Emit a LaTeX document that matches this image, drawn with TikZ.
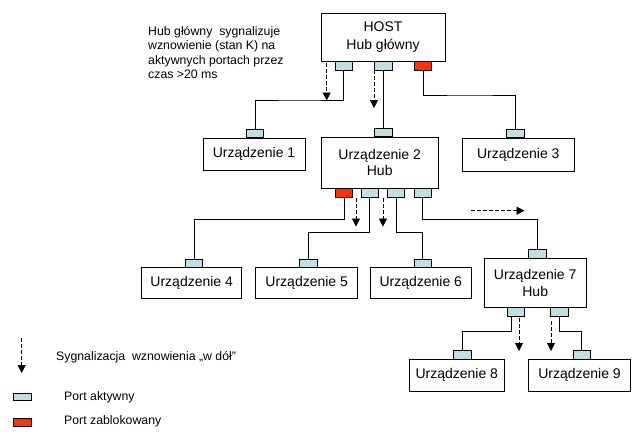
\documentclass[tikz,border=0pt]{standalone}
\usepackage{fontspec}
\setmainfont{Liberation Sans}
\usetikzlibrary{arrows.meta}
\definecolor{portblue}{HTML}{C0DFE0}
\definecolor{portred}{HTML}{FF3300}
\begin{document}
\begin{tikzpicture}[x=1pt,y=-1pt,
  box/.style={draw, line width=0.8pt, inner sep=0pt, align=center, font=\fontsize{14}{16.5}\selectfont},
  port/.style={draw, line width=0.7pt, fill=portblue, minimum width=17.5pt, minimum height=8.5pt, inner sep=0pt},
  blocked/.style={port, fill=portred},
  wire/.style={line width=0.8pt},
  sig/.style={line width=0.8pt, dash pattern=on 3.5pt off 2.5pt, -{Triangle[length=8pt,width=8pt]}},
  small/.style={font=\fontsize{12.3}{14}\selectfont, inner sep=0pt, anchor=base west}]
\useasboundingbox (0,0) rectangle (637,434);

% boxes
\node[box, minimum width=124pt, minimum height=48pt, font=\fontsize{14}{17.5}\selectfont] (host) at (383,37) {HOST\\Hub główny};
\node[box, minimum width=102pt, minimum height=32pt] (u1) at (254,154) {Urządzenie 1};
\node[box, minimum width=117.3pt, minimum height=51pt] (u2) at (379.7,162.5) {Urządzenie 2\\Hub};
\node[box, minimum width=111.3pt, minimum height=33pt] (u3) at (518.3,154.5) {Urządzenie 3};
\node[box, minimum width=100pt, minimum height=30.6pt] (u4) at (191.7,283) {Urządzenie 4};
\node[box, minimum width=102pt, minimum height=30.6pt] (u5) at (306.7,283) {Urządzenie 5};
\node[box, minimum width=100.3pt, minimum height=30.6pt] (u6) at (420.8,283) {Urządzenie 6};
\node[box, minimum width=101.7pt, minimum height=49pt] (u7) at (535.2,282.8) {Urządzenie 7\\Hub};
\node[box, minimum width=95pt, minimum height=31.7pt] (u8) at (456.8,375.2) {Urządzenie 8};
\node[box, minimum width=102.4pt, minimum height=31.7pt] (u9) at (579.5,375.2) {Urządzenie 9};

% ports
\node[port, anchor=north] (h1) at (343.8,61) {};
\node[port, anchor=north] (h2) at (383.3,61) {};
\node[blocked, anchor=north] (h3) at (423,61) {};
\node[port, anchor=south] (u1p) at (255,138) {};
\node[port, anchor=south] (u2t) at (383.3,137) {};
\node[port, anchor=south] (u3p) at (515.5,138) {};
\node[blocked, anchor=north] (u2r) at (344,188) {};
\node[port, anchor=north] (u2b) at (369.7,188) {};
\node[port, anchor=north] (u2c) at (396,188) {};
\node[port, anchor=north] (u2d) at (422.7,188) {};
\node[port, anchor=south] (u4p) at (193.9,267.7) {};
\node[port, anchor=south] (u5p) at (308.3,267.7) {};
\node[port, anchor=south] (u6p) at (422.8,267.7) {};
\node[port, anchor=south] (u7p) at (537.2,258.3) {};
\node[port, anchor=north] (u7a) at (515.8,307.3) {};
\node[port, anchor=north] (u7b) at (559.3,307.3) {};
\node[port, anchor=south] (u8p) at (462.2,359.3) {};
\node[port, anchor=south] (u9p) at (581.8,359.3) {};

% bend levels
\coordinate (j1) at (300,100);
\coordinate (j3) at (470,95);
\coordinate (j4) at (260,219.3);
\coordinate (j5) at (340,232.3);
\coordinate (j6) at (410,232.3);
\coordinate (j7) at (480,219.3);
\coordinate (j8) at (480,331.7);
\coordinate (j9) at (570,331.7);
\coordinate (x7a) at (511,0);

% wires
\draw[wire] (h1.south) |- (j1) -| (u1p.north);
\draw[wire] (h2.south) -- (u2t.north);
\draw[wire] (h3.south) |- (j3) -| (u3p.north);
\draw[wire] (u2r.south) |- (j4) -| (u4p.north);
\draw[wire] (u2b.south) |- (j5) -| (u5p.north);
\draw[wire] (u2c.south) |- (j6) -| (u6p.north);
\draw[wire] (u2d.south) |- (j7) -| (u7p.north);
\draw[wire] (u7a.south -| x7a) |- (j8) -| (u8p.north);
\draw[wire] (u7b.south) |- (j9) -| (u9p.north);

% signalling arrows
\coordinate (s1a) at (326.7,63);  \coordinate (s1b) at (326.7,100.5);
\coordinate (s2a) at (374,64);    \coordinate (s2b) at (374,108);
\coordinate (s3a) at (356,198);   \coordinate (s3b) at (356,226.5);
\coordinate (s4a) at (383,198);   \coordinate (s4b) at (383,226.5);
\coordinate (s5a) at (471,210.7); \coordinate (s5b) at (524.5,210.7);
\coordinate (s6a) at (519,318);   \coordinate (s6b) at (519,351);
\coordinate (s7a) at (551,321);   \coordinate (s7b) at (551,351);
\draw[sig] (s1a) -- (s1b);
\draw[sig] (s2a) -- (s2b);
\draw[sig] (s3a) -- (s3b);
\draw[sig] (s4a) -- (s4b);
\draw[sig] (s5a) -- (s5b);
\draw[sig] (s6a) -- (s6b);
\draw[sig] (s7a) -- (s7b);

% annotation
\node[small] (n1) at (148,35) {Hub główny\ \ sygnalizuje};
\node[small] (n2) at (148,49.5) {wznowienie (stan K) na};
\node[small] (n3) at (148,64) {aktywnych portach przez};
\node[small] (n4) at (148,78.3) {czas >20 ms};

% legend
\coordinate (la) at (21.7,338); \coordinate (lb) at (21.7,373);
\draw[sig] (la) -- (lb);
\node[small] (lt1) at (56,360) {Sygnalizacja\ \ wznowienia „w dół”};
\node[port, anchor=north west, minimum width=17.7pt, minimum height=7pt] (lp1) at (13.3,392.7) {};
\node[small] (lt2) at (64,400) {Port aktywny};
\node[blocked, anchor=north west, minimum width=17.7pt, minimum height=8.3pt] (lp2) at (13.3,417.7) {};
\node[small] (lt3) at (64,424.8) {Port zablokowany};
\end{tikzpicture}
\end{document}
